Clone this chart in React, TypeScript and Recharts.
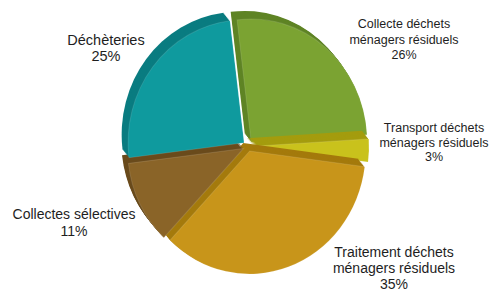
import React from "react";
import { PieChart, Pie, Cell } from "recharts";

const categories = [
  "Collecte déchets ménagers résiduels",
  "Transport déchets ménagers résiduels",
  "Traitement déchets ménagers résiduels",
  "Collectes sélectives",
  "Déchèteries",
];
const values = [26, 3, 35, 11, 25];
const faceColors = ["#7BA332", "#C9C21C", "#C8951A", "#8A6428", "#0F9A9E"];
const rimColors = ["#5F8425", "#A49C0E", "#A47A0C", "#6A4B1C", "#0A7C80"];
const labelLines = [
  ["Collecte déchets", "ménagers résiduels"],
  ["Transport déchets", "ménagers résiduels"],
  ["Traitement déchets", "ménagers résiduels"],
  ["Collectes sélectives"],
  ["Déchèteries"],
];

const W = 489;
const H = 290;
const CX = 248;
const CY = 146;
const R = 116;
const START = 97;
const END = START - 360;
const EXPLODE = 5;
const LAYERS = 8;
const LDX = -0.8;
const LDY = -0.95;
const SCALE_Y = 1.06;

const labelPos = [
  { x: 404, y: 28, size: 12.5, lh: 15.5 },
  { x: 434, y: 132, size: 12.5, lh: 14.5 },
  { x: 394, y: 257, size: 14, lh: 16 },
  { x: 74, y: 219, size: 14, lh: 17 },
  { x: 106, y: 45, size: 14.5, lh: 16 },
];

const data = categories.map((name, i) => ({ name, value: values[i] }));
const total = values.reduce((a, b) => a + b, 0);

function midAngle(i: number) {
  let cum = 0;
  for (let k = 0; k < i; k++) cum += values[k];
  return START - (360 * (cum + values[i] / 2)) / total;
}

export default function App() {
  const pies: React.ReactNode[] = [];
  data.forEach((_, i) => {
    const a = (midAngle(i) * Math.PI) / 180;
    const ox = CX + EXPLODE * Math.cos(a);
    const oy = CY - EXPLODE * Math.sin(a);
    for (let k = LAYERS; k >= 0; k--) {
      const color = k === 0 ? faceColors[i] : rimColors[i];
      pies.push(
        <Pie
          key={`p-${i}-${k}`}
          data={data}
          dataKey="value"
          nameKey="name"
          cx={ox + k * LDX}
          cy={oy + k * LDY}
          outerRadius={R}
          startAngle={START}
          endAngle={END}
          stroke="none"
          isAnimationActive={false}
          label={false}
          labelLine={false}
        >
          {data.map((d, j) => (
            <Cell
              key={`c-${j}`}
              fill={j === i ? color : "transparent"}
              stroke={j === i && k === 0 ? "rgba(255,255,255,0.12)" : "none"}
            />
          ))}
        </Pie>
      );
    }
  });

  return (
    <div style={{ position: "absolute", left: 0, top: 0, width: W, height: H, background: "#fff", overflow: "hidden" }}>
      <div
        style={{
          position: "absolute",
          left: 0,
          top: 0,
          width: W,
          height: H,
          transform: `scaleY(${SCALE_Y})`,
          transformOrigin: `${CX}px ${CY}px`,
        }}
      >
        <PieChart width={W} height={H} margin={{ top: 0, right: 0, bottom: 0, left: 0 }}>
          {pies}
        </PieChart>
      </div>
      <svg
        width={W}
        height={H}
        style={{ position: "absolute", left: 0, top: 0, pointerEvents: "none" }}
      >
        {labelPos.map((p, i) => {
          const lines = [...labelLines[i], `${values[i]}%`];
          return (
            <text
              key={i}
              x={p.x}
              y={p.y}
              textAnchor="middle"
              fontFamily="'Liberation Sans', Arial, sans-serif"
              fontSize={p.size}
              fill="#1e1e1e"
            >
              {lines.map((t, j) => (
                <tspan key={j} x={p.x} y={p.y + j * p.lh}>
                  {t}
                </tspan>
              ))}
            </text>
          );
        })}
      </svg>
    </div>
  );
}
